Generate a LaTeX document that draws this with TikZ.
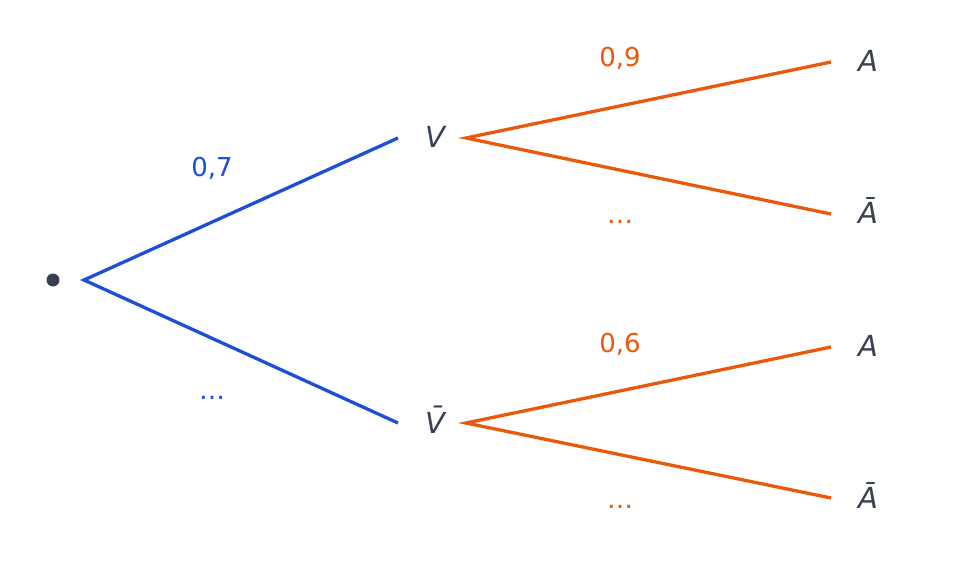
\documentclass[tikz,border=0pt]{standalone}
\usepackage{fontspec}
\setmainfont{DejaVu Sans}
\definecolor{treeblue}{HTML}{1D4ED8}
\definecolor{treeorange}{HTML}{EA580C}
\definecolor{txt}{HTML}{374151}
\begin{document}
\begin{tikzpicture}[x=1pt,y=-1pt,
  lbl/.style={text=txt,inner sep=0pt,anchor=base,font=\fontsize{29}{32}\selectfont\itshape},
  prob/.style={inner sep=0pt,anchor=base,font=\fontsize{26}{30}\selectfont},
  bl/.style={draw=treeblue,line width=3.3pt},
  og/.style={draw=treeorange,line width=3.3pt}]
\useasboundingbox (0,0) rectangle (960,561);
% root
\node[circle,fill=txt,inner sep=0pt,minimum size=13pt] (root) at (53,280) {};
\coordinate (rootout) at (84,280);
% level 1
\node[lbl] (V) at (435,148) {V};
\coordinate (Vin) at (398,138);
\coordinate (Vout) at (466,138);
\node[lbl] (Vb) at (435,433) {V̄};
\coordinate (Vbin) at (398,423);
\coordinate (Vbout) at (466,423);
% leaves
\node[lbl] (A1) at (868,72) {A};
\coordinate (A1in) at (831,62);
\node[lbl] (A2) at (868,224) {Ā};
\coordinate (A2in) at (831,214);
\node[lbl] (A3) at (868,356) {A};
\coordinate (A3in) at (831,347);
\node[lbl] (A4) at (868,508) {Ā};
\coordinate (A4in) at (831,498);
% connectors
\draw[bl] (Vin) -- (rootout) -- (Vbin);
\draw[og] (A1in) -- (Vout) -- (A2in);
\draw[og] (A3in) -- (Vbout) -- (A4in);
% probabilities
\node[prob,text=treeblue] (p1) at (212,177) {0,7};
\node[prob,text=treeblue] (p2) at (212,399) {…};
\node[prob,text=treeorange] (p3) at (620,67) {0,9};
\node[prob,text=treeorange] (p4) at (620,224) {…};
\node[prob,text=treeorange] (p5) at (620,352) {0,6};
\node[prob,text=treeorange] (p6) at (620,508) {…};
\end{tikzpicture}
\end{document}
